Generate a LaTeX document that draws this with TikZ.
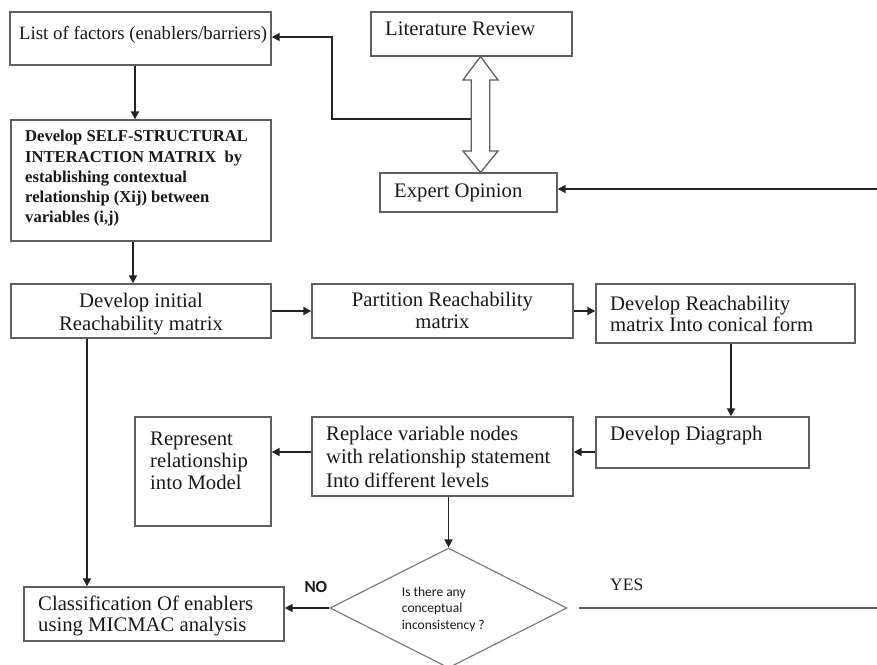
\documentclass[tikz,border=0pt]{standalone}
\usepackage{fontspec}
\setmainfont{Liberation Serif}
\newfontfamily\calibfont{Carlito}
\usetikzlibrary{arrows.meta,shapes.geometric,calc}
\definecolor{boxgray}{RGB}{95,95,95}
\definecolor{diagray}{RGB}{125,125,125}
\definecolor{linkc}{RGB}{35,35,35}
\definecolor{inkc}{RGB}{25,25,25}
% stacked lines whose first baseline is the node's base
\newcommand\textrows[2][l]{\begin{tabular}[t]{@{}#1@{}}#2\end{tabular}}

\begin{document}
\begin{tikzpicture}[x=1pt,y=-1pt,
  box/.style={draw=boxgray,line width=1.4pt,fill=white,inner sep=0pt},
  body/.style={inner sep=0pt,text=inkc,font=\fontsize{20.7}{#1}\selectfont},
  body/.default=22,
  strong/.style={inner sep=0pt,text=inkc,font=\fontsize{16.6}{20.3}\selectfont\bfseries},
  question/.style={inner sep=0pt,text=inkc,font=\calibfont\fontsize{13.5}{16.7}\selectfont},
  link/.style={draw=linkc,line width=1.8pt,-{Triangle[length=8pt,width=8pt]}},
  plainline/.style={draw=boxgray,line width=1.3pt}]

\useasboundingbox (0,0) rectangle (877,664);
\clip (0,0) rectangle (877,664);

% boxes
\node[box,minimum width=261pt,minimum height=53pt] (list) at (140.5,38.5) {};
\node[box,minimum width=260pt,minimum height=121pt] (ssim) at (141,180.5) {};
\node[box,minimum width=201pt,minimum height=44pt] (lit) at (471.5,34) {};
\node[box,minimum width=177pt,minimum height=39pt] (expert) at (468.5,192.5) {};
\node[box,minimum width=260pt,minimum height=54pt] (init) at (141,311) {};
\node[box,minimum width=261pt,minimum height=54pt] (part) at (442.5,311) {};
\node[box,minimum width=259pt,minimum height=59pt] (canon) at (725.5,313.5) {};
\node[box,minimum width=213pt,minimum height=51pt] (diag) at (702.5,442.5) {};
\node[box,minimum width=261pt,minimum height=79pt] (repl) at (442.5,456.5) {};
\node[box,minimum width=136pt,minimum height=109pt] (model) at (203,471.5) {};
\node[box,minimum width=260pt,minimum height=54pt] (micmac) at (154,614) {};
\node[draw=diagray,line width=1.2pt,fill=white,diamond,minimum width=237pt,minimum height=120pt,inner sep=0pt] (dia) at (448.5,608) {};

% texts
\node[inner sep=0pt,text=inkc,font=\fontsize{18.8}{22}\selectfont,anchor=base west] (list-t) at (19,39) {List of factors (enablers/barriers)};
\node[strong,anchor=base west] (ssim-t) at (25,141.7) {\textrows{Develop SELF-STRUCTURAL\\INTERACTION MATRIX\ \ by\\establishing contextual\\relationship (Xij) between\\variables (i,j)}};
\node[body,anchor=base west] (lit-t) at (385,35.5) {Literature Review};
\node[body,anchor=base west] (expert-t) at (394,197) {Expert Opinion};
\node[body=22.3,anchor=base] (init-t) at (141,307.7) {\textrows[c]{Develop initial\\Reachability matrix}};
\node[body=21.6,anchor=base] (part-t) at (442.5,306.7) {\textrows[c]{Partition Reachability\\matrix}};
\node[body=21,anchor=base west] (canon-t) at (610,310.7) {\textrows{Develop Reachability\\matrix Into conical form}};
\node[body,anchor=base west] (diag-t) at (610,440) {Develop Diagraph};
\node[body=23.7,anchor=base west] (repl-t) at (326,440) {\textrows{Replace variable nodes\\with relationship statement\\Into different levels}};
\node[body=22,anchor=base west] (model-t) at (150,445) {\textrows{Represent\\relationship\\into Model}};
\node[body=20.5,anchor=base west] (micmac-t) at (38,610.7) {\textrows{Classification Of enablers\\using MICMAC analysis}};
\node[question,anchor=base west] (dia-t) at (401.7,596) {\textrows{Is there any\\conceptual\\inconsistency ?}};
\node[inner sep=0pt,text=inkc,font=\calibfont\fontsize{17}{20}\selectfont\bfseries,anchor=base west] (no-t) at (304.3,592.3) {NO};
\node[inner sep=0pt,text=inkc,font=\fontsize{17.5}{20}\selectfont,anchor=base west] (yes-t) at (610,590.7) {YES};

% connectors
\coordinate (a1) at (135,0);
\draw[link] (a1 |- list.south) -- (a1 |- ssim.north);
\coordinate (a2) at (133,0);
\draw[link] (a2 |- ssim.south) -- (a2 |- init.north);
\draw[link] (init.east) -- (part.west);
\draw[link] (part.east) -- (part.east -| canon.west);
\coordinate (a3) at (731,0);
\draw[link] (a3 |- canon.south) -- (a3 |- diag.north);
\coordinate (a4) at (0,452);
\draw[link] (a4 -| diag.west) -- (a4 -| repl.east);
\draw[link] (a4 -| repl.west) -- (a4 -| model.east);
\draw[link] (dia.north |- repl.south) -- (dia.north);
\draw[link] (dia.west) -- (dia.west -| micmac.east);
\coordinate (a5) at (87,0);
\draw[link] (a5 |- init.south) -- (a5 |- micmac.north);
\coordinate (edge-r) at (877,189);
\draw[link] (edge-r) -- (edge-r -| expert.east);
\coordinate (yes-end) at (877,608);
\draw[plainline] ($(dia.east)+(11,0)$) -- (yes-end);
\coordinate (shaft) at (471.25,119);
\coordinate (bend) at (332,37);
\draw[link] (shaft) -| (bend) -- (bend -| list.east);

% two-way hollow arrow between literature review and expert opinion
\draw[draw=boxgray,line width=1.3pt,fill=white,line join=miter]
  (480.5,56.5) -- (498,80) -- (489.75,80) -- (489.75,151) -- (498,151)
  -- (480.5,172.5) -- (463,151) -- (471.25,151) -- (471.25,80) -- (463,80) -- cycle;
\end{tikzpicture}
\end{document}
